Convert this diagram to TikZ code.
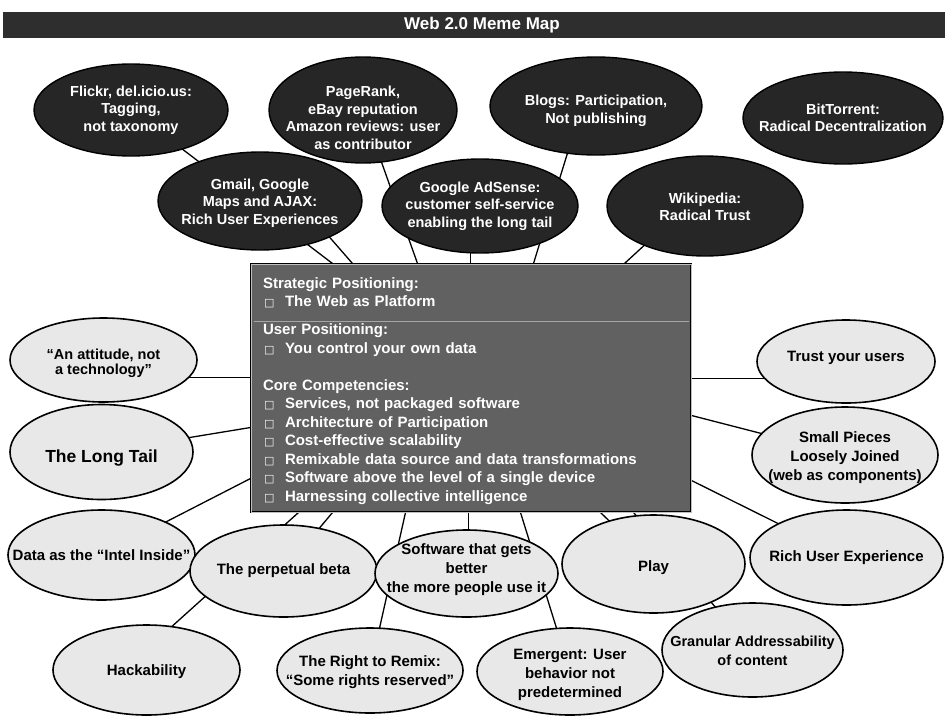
\documentclass[tikz,border=0pt]{standalone}
\usepackage{fontspec}
\setmainfont{Liberation Sans}
\newfontfamily\symfont{DejaVu Sans}
\usetikzlibrary{shapes.geometric,calc,backgrounds}
\newcommand\mmbul{\makebox[22pt][l]{\hspace{1pt}{\symfont\fontsize{11}{11}\selectfont □}}}
\tikzset{
  base/.style={ellipse, inner sep=0pt, outer sep=0pt},
  dark/.style={base, draw=black, line width=1.4pt, fill=black!85},
  light/.style={base, draw=black, line width=1.6pt, fill=black!9},
  dtxt/.style={text=white, font=\fontsize{14.5}{17.5}\selectfont\bfseries, align=center, inner sep=0pt},
  ltxt/.style={text=black, font=\fontsize{15}{19}\selectfont\bfseries, align=center, inner sep=0pt},
  link/.style={draw=black, line width=1.3pt},
  titlebar/.style={rectangle, fill=black!82, minimum width=942pt, minimum height=26pt, inner sep=0pt},
  titletxt/.style={text=white, font=\fontsize{17}{20}\selectfont\bfseries, inner sep=0pt},
  corebox/.style={rectangle, draw=black, line width=1pt, double=black!25, double distance=0.8pt,
    fill=black!62, minimum width=440pt, minimum height=248pt, inner sep=0pt},
  coretxt/.style={inner xsep=13pt, inner ysep=0pt, text width=416pt, align=left, text=white,
    font=\fontsize{15}{18.5}\selectfont\bfseries},
  sepline/.style={draw=black!35, line width=0.8pt},
}
\begin{document}
\begin{tikzpicture}[x=1pt,y=-1pt]
\useasboundingbox (0,0) rectangle (945,715);

% title
\node[titlebar, label={[titletxt, xshift=8pt]center:{Web 2.0 Meme Map}}] (title) at (474,25) {};

% dark ellipses, upper row
\node[dark, minimum width=194pt, minimum height=92pt,
  label={[dtxt]center:{Flickr, del.icio.us:\\Tagging,\\not taxonomy}}] (flickr) at (131,110) {};
\node[dark, minimum width=188pt, minimum height=106pt,
  label={[dtxt, yshift=-8pt]center:{PageRank,\\eBay reputation\\Amazon reviews: user\\as contributor}}] (pagerank) at (363,110) {};
\node[dark, minimum width=212pt, minimum height=98pt,
  label={[dtxt, yshift=-5pt]center:{Blogs: Participation,\\Not publishing}}] (blogs) at (596,106) {};
\node[dark, minimum width=200pt, minimum height=92pt,
  label={[dtxt]center:{BitTorrent:\\Radical Decentralization}}] (bittorrent) at (843,118) {};

% dark ellipses, lower row
\node[dark, minimum width=204pt, minimum height=98pt,
  label={[dtxt, yshift=-2pt]center:{Gmail, Google\\Maps and AJAX:\\Rich User Experiences}}] (gmail) at (260,201) {};
\node[dark, minimum width=196pt, minimum height=94pt,
  label={[dtxt]center:{Google AdSense:\\customer self-service\\enabling the long tail}}] (adsense) at (480,206) {};
\node[dark, minimum width=196pt, minimum height=100pt,
  label={[dtxt, yshift=-1pt]center:{Wikipedia:\\Radical Trust}}] (wiki) at (705,206) {};

% central box
\node[corebox, label={[coretxt, yshift=-3pt]center:{Strategic Positioning:\\
\mmbul The Web as Platform\\[9.5pt]
User Positioning:\\
\mmbul You control your own data\\[18.5pt]
Core Competencies:\\
\mmbul Services, not packaged software\\
\mmbul Architecture of Participation\\
\mmbul Cost-effective scalability\\
\mmbul Remixable data source and data transformations\\
\mmbul Software above the level of a single device\\
\mmbul Harnessing collective intelligence}}] (core) at (471,388) {};
\draw[sepline] ($(core.north west)+(3,58)$) -- ($(core.north east)+(-3,58)$);

% light ellipses
\node[light, minimum width=187pt, minimum height=84pt,
  label={[ltxt, font=\fontsize{14.5}{15}\selectfont\bfseries, yshift=-3pt]center:{“An attitude, not\\a technology”}}] (attitude) at (103.5,360) {};
\node[light, minimum width=183pt, minimum height=95pt,
  label={[ltxt, font=\fontsize{17.5}{20}\selectfont\bfseries, yshift=-6pt]center:{The Long Tail}}] (longtail) at (101.5,452) {};
\node[light, minimum width=187pt, minimum height=90pt,
  label={[ltxt]center:{Data as the “Intel Inside”}}] (data) at (101.5,555) {};
\node[light, minimum width=187pt, minimum height=92pt,
  label={[ltxt]center:{The perpetual beta}}] (beta) at (283.5,571) {};
\node[light, minimum width=183pt, minimum height=87pt,
  label={[ltxt, yshift=4pt]center:{Software that gets\\better\\the more people use it}}] (better) at (466.5,573.5) {};
\node[light, minimum width=183pt, minimum height=98pt,
  label={[ltxt, yshift=-4pt]center:{Play}}] (play) at (653.5,564) {};
\node[light, minimum width=193pt, minimum height=95pt,
  label={[ltxt]center:{Rich User Experience}}] (rich) at (846.5,557.5) {};
\node[light, minimum width=178pt, minimum height=83pt,
  label={[ltxt, yshift=3.5pt]center:{Trust your users}}] (trust) at (846,361.5) {};
\node[light, minimum width=186pt, minimum height=96pt,
  label={[ltxt, yshift=-3pt]center:{Small Pieces\\Loosely Joined\\(web as components)}}] (small) at (845,455) {};
\node[light, minimum width=187pt, minimum height=90pt,
  label={[ltxt, yshift=-2pt]center:{Hackability}}] (hack) at (146.5,670) {};
\node[light, minimum width=186pt, minimum height=85pt,
  label={[ltxt, yshift=-2pt]center:{The Right to Remix:\\“Some rights reserved”}}] (remix) at (370,670.5) {};
\node[light, minimum width=186pt, minimum height=87pt,
  label={[ltxt, yshift=-3.5pt]center:{Emergent: User\\behavior not\\predetermined}}] (emergent) at (570,671.5) {};
\node[light, minimum width=181pt, minimum height=94pt,
  label={[ltxt, font=\fontsize{14.5}{18.5}\selectfont\bfseries, yshift=-1pt]center:{Granular Addressability\\of content}}] (granular) at (752.5,650) {};

% connectors (behind all shapes)
\begin{pgfonlayer}{background}
\fill[white] (0,0) rectangle (945,715);
% top edge of the box
\coordinate (t-fli) at ($(core.north west)+(82,0)$);
\coordinate (t-gma) at ($(core.north west)+(102,0)$);
\coordinate (t-pag) at ($(core.north west)+(167,0)$);
\coordinate (t-ads) at ($(core.north west)+(220,0)$);
\coordinate (t-blo) at ($(core.north west)+(283,0)$);
\coordinate (t-wik) at ($(core.north west)+(374,0)$);
% left edge
\coordinate (l-att) at ($(core.north west)+(0,114)$);
\coordinate (l-lon) at ($(core.north west)+(0,164)$);
\coordinate (l-dat) at ($(core.north west)+(0,215)$);
% bottom edge
\coordinate (b-hac) at ($(core.south west)+(48,0)$);
\coordinate (b-bet) at ($(core.south west)+(82,0)$);
\coordinate (b-rem) at ($(core.south west)+(155,0)$);
\coordinate (b-sof) at ($(core.south west)+(218,0)$);
\coordinate (b-eme) at ($(core.south west)+(270,0)$);
\coordinate (b-pla) at ($(core.south west)+(350,0)$);
\coordinate (b-gra) at ($(core.south west)+(383,0)$);
% right edge
\coordinate (r-tru) at ($(core.north east)+(0,115)$);
\coordinate (r-sma) at ($(core.north east)+(0,152)$);
\coordinate (r-ric) at ($(core.north east)+(0,217)$);

\draw[link] (flickr) -- (t-fli);
\draw[link] ($(gmail)+(38,0)$) -- (t-gma);
\draw[link] (pagerank) -- (t-pag);
\draw[link] (t-ads) -- (t-ads |- adsense.center);
\draw[link] ($(blogs)+(-14,0)$) -- (t-blo);
\draw[link] ($(wiki)+(-18,0)$) -- (t-wik);
\draw[link] (l-att) -- (l-att -| attitude.center);
\draw[link] (longtail) -- (l-lon);
\draw[link] (data) -- (l-dat);
\draw[link] ($(hack)+(-23,0)$) -- (b-hac);
\draw[link] (beta) -- (b-bet);
\draw[link] (remix) -- (b-rem);
\draw[link] (b-sof) -- (b-sof |- better.center);
\draw[link] (emergent) -- (b-eme);
\draw[link] (play) -- (b-pla);
\draw[link] (granular) -- (b-gra);
\draw[link] (r-tru) -- (r-tru -| trust.center);
\draw[link] (small) -- (r-sma);
\draw[link] (rich) -- (r-ric);
\end{pgfonlayer}
\end{tikzpicture}
\end{document}
